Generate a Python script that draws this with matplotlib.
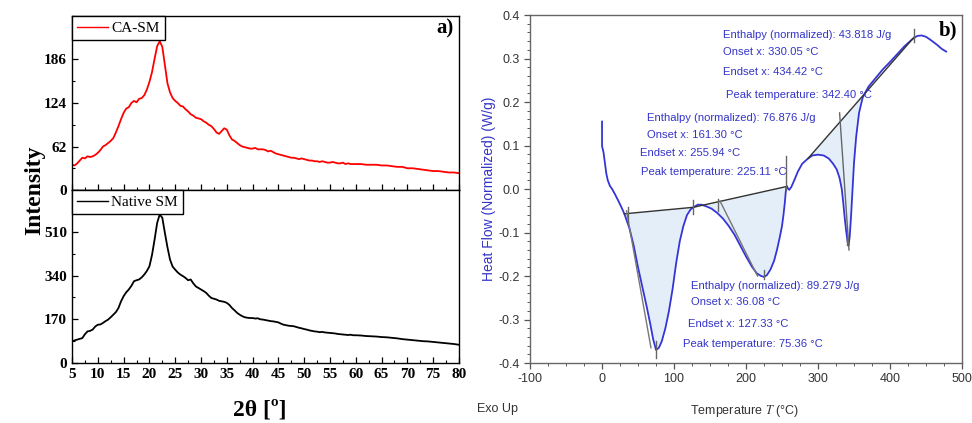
import numpy as np
import matplotlib
matplotlib.use("Agg")
import matplotlib.pyplot as plt
from matplotlib.ticker import MultipleLocator, AutoMinorLocator

plt.rcParams['axes.unicode_minus'] = False
plt.rcParams['mathtext.fontset'] = 'stix'

# ---- XRD data (a) ----
two_theta = np.concatenate([np.arange(5, 60, 0.5), np.arange(60, 81, 1)])
ca_sm = [36, 35, 38, 42, 46, 45, 48, 47, 48, 50,
         53, 57, 62, 64, 67, 70, 74, 82, 91, 101,
         110, 116, 118, 124, 127, 125, 130, 131, 135, 143,
         154, 168, 187, 205, 212, 204, 178, 152, 139, 131,
         127, 124, 120, 119, 115, 112, 108, 106, 103, 102,
         101, 98, 96, 93, 91, 87, 82, 80, 84, 88,
         86, 78, 72, 70, 67, 64, 62, 61, 60, 59,
         59, 60, 58, 58, 58, 57, 55, 56, 54, 52,
         51, 50, 49, 48, 47, 46, 46, 45, 44, 45,
         44, 43, 42, 42, 41, 41, 40, 41, 40, 39,
         39, 40, 39, 38, 38, 39, 37, 38, 37, 37,
         37, 37, 36, 36, 36, 35, 35, 34, 33, 33, 31,
         31, 30, 29, 28, 27, 27, 26, 25, 25, 24]
native_sm = [84, 88, 91, 94, 97, 112, 123, 125, 130, 142,
             149, 150, 156, 163, 169, 178, 188, 198, 214, 240,
             260, 275, 286, 300, 318, 322, 325, 333, 344, 358,
             376, 420, 480, 545, 578, 565, 506, 450, 402, 375,
             363, 352, 344, 338, 331, 322, 325, 310, 298, 292,
             286, 280, 273, 262, 253, 250, 247, 242, 240, 238,
             234, 226, 214, 205, 195, 188, 182, 178, 176, 175,
             175, 173, 174, 170, 169, 167, 165, 163, 162, 160,
             158, 153, 149, 147, 145, 144, 143, 140, 137, 135,
             132, 130, 127, 125, 123, 122, 120, 121, 119, 118,
             117, 116, 115, 113, 112, 111, 110, 109, 110, 108,
             108, 107, 105, 104, 103, 101, 100, 98, 96, 93, 91,
             89, 87, 85, 84, 82, 80, 78, 76, 74, 71]
top_yticks = [0, 62, 124, 186]
bot_yticks = [0, 170, 340, 510]

# ---- DSC data (b) ----
dsc_T = [0, 0, 0.5, 2, 4, 6, 8, 11, 14, 18, 22, 27, 31, 38, 44, 50, 56, 62, 67, 71,
         75, 79, 83, 88, 93, 98, 103, 108, 113, 118, 123, 127, 133, 138, 145, 152, 160,
         168, 176, 184, 192, 200, 208, 215, 221, 225, 229, 234, 239, 243, 247, 250,
         252, 254, 255, 256, 257, 258, 260, 263, 267, 272, 278, 286, 292, 300, 308,
         315, 321, 326, 330, 333, 335, 337, 339, 341, 342.4, 344, 346, 348, 350, 353,
         357, 362, 370, 380, 390, 400, 410, 420, 430, 434, 438, 444, 450, 457, 465,
         472, 478]
dsc_hf = [0.155, 0.10, 0.095, 0.085, 0.06, 0.035, 0.02, 0.007, 0.0, -0.012, -0.025,
          -0.042, -0.057, -0.09, -0.13, -0.18, -0.225, -0.27, -0.31, -0.345,
          -0.37, -0.365, -0.35, -0.32, -0.28, -0.23, -0.17, -0.12, -0.085, -0.06,
          -0.047, -0.042, -0.036, -0.036, -0.04, -0.045, -0.055,
          -0.068, -0.085, -0.105, -0.13, -0.155, -0.178, -0.194, -0.2, -0.202,
          -0.198, -0.185, -0.165, -0.14, -0.11, -0.085,
          -0.06, -0.03, -0.01, 0.003, 0.006, 0.002, -0.002, 0.005, 0.02, 0.04,
          0.058, 0.07, 0.077, 0.079, 0.077,
          0.07, 0.058, 0.045, 0.025, 0.0, -0.03, -0.065, -0.095, -0.12, -0.13,
          -0.11, -0.06, 0.0, 0.06, 0.12,
          0.175, 0.21, 0.235, 0.255, 0.275, 0.292, 0.31, 0.328, 0.343, 0.348,
          0.352, 0.353, 0.35, 0.342, 0.332, 0.322, 0.316]
base1_T = [31, 127, 257]
base1_hf = [-0.057, -0.042, 0.006]
base2_T = [286, 434]
base2_hf = [0.07, 0.35]
tangent1 = ([34, 68], [-0.05, -0.365])
tangent2 = ([164, 216], [-0.028, -0.2])
marks = [  # (T1, y1, T2, y2)
    (36, -0.042, 36, -0.075), (127, -0.025, 127, -0.058), (161, -0.022, 161, -0.05),
    (75, -0.35, 75, -0.388), (225, -0.187, 225, -0.208), (256, 0.075, 256, -0.003),
    (330, 0.175, 343, -0.14), (434, 0.368, 434, 0.338), (340, -0.11, 340, -0.128)]
notes = [
    (168, 0.354, 'Enthalpy (normalized): 43.818 J/g'),
    (168, 0.315, 'Onset x: 330.05 °C'),
    (168, 0.269, 'Endset x: 434.42 °C'),
    (172, 0.216, 'Peak temperature: 342.40 °C'),
    (62.5, 0.163, 'Enthalpy (normalized): 76.876 J/g'),
    (62.5, 0.124, 'Onset x: 161.30 °C'),
    (53, 0.083, 'Endset x: 255.94 °C'),
    (54, 0.039, 'Peak temperature: 225.11 °C'),
    (123.5, -0.223, 'Enthalpy (normalized): 89.279 J/g'),
    (123.5, -0.26, 'Onset x: 36.08 °C'),
    (119.5, -0.31, 'Endset x: 127.33 °C'),
    (112.5, -0.356, 'Peak temperature: 75.36 °C'),
]

serif = 'Liberation Serif'
sans = ['Liberation Sans', 'DejaVu Sans']
blue = '#3535d6'
txtblue = '#3434c8'

fig = plt.figure(figsize=(9.72, 4.23), dpi=100)
ax1 = fig.add_axes([0.0741, 0.5508, 0.3981, 0.4114])
ax2 = fig.add_axes([0.0741, 0.1418, 0.3981, 0.409])
ax3 = fig.add_axes([0.5453, 0.1418, 0.4444, 0.8227])

for ax, y, col, lab, ticks, ytop in [(ax1, ca_sm, 'red', 'CA-SM', top_yticks, 248),
                                     (ax2, native_sm, 'black', 'Native SM', bot_yticks, 673)]:
    ax.plot(two_theta, y, color=col, lw=1.3, label=lab)
    ax.set_xlim(5, 80)
    ax.set_ylim(0, ytop)
    ax.set_yticks(ticks)
    ax.xaxis.set_major_locator(MultipleLocator(5))
    ax.xaxis.set_minor_locator(AutoMinorLocator(2))
    ax.yaxis.set_minor_locator(AutoMinorLocator(2))
    ax.tick_params(which='both', direction='in', top=False, right=False)
    ax.tick_params(which='major', length=4, width=0.9)
    ax.tick_params(which='minor', length=2.5, width=0.8)
    for s in ax.spines.values():
        s.set_linewidth(1.0)
    for t in ax.get_xticklabels() + ax.get_yticklabels():
        t.set_fontfamily(serif)
        t.set_fontweight('bold')
        t.set_fontsize(11)
    leg = ax.legend(loc='upper left', borderaxespad=0, fancybox=False, framealpha=1,
                    edgecolor='black', handlelength=2.0, handletextpad=0.2,
                    borderpad=0.35, prop={'family': serif, 'size': 11})
    leg.get_frame().set_linewidth(1.0)
    leg.get_lines()[0].set_linewidth(1.0)
ax1.tick_params(labelbottom=False)
ax1.text(0.985, 0.93, 'a)', transform=ax1.transAxes, ha='right', va='center',
         fontfamily=serif, fontweight='bold', fontsize=15)
fig.text(35 / 972, 1 - 190 / 423, 'Intensity', rotation=90, ha='center', va='center',
         fontfamily=serif, fontweight='bold', fontsize=17)
fig.text(260 / 972, 1 - 410 / 423, '2θ [º]', ha='center', va='center',
         fontfamily=serif, fontweight='bold', fontsize=17)

# ---- DSC panel ----
T = np.array(dsc_T)
hf = np.array(dsc_hf)
b1 = np.interp(T, base1_T, base1_hf)
b2 = np.interp(T, base2_T, base2_hf)
fill_col = '#e4eef9'
ax3.fill_between(T, hf, b1, where=(T >= base1_T[0]) & (T <= base1_T[-1]) & (hf <= b1),
                 interpolate=True, color=fill_col, lw=0)
ax3.fill_between(T, hf, b2, where=(T >= base2_T[0]) & (T <= base2_T[-1]) & (hf <= b2),
                 interpolate=True, color=fill_col, lw=0)
ax3.plot(T, hf, color=blue, lw=1.3)
ax3.plot(base1_T, base1_hf, color='#333333', lw=1.0)
ax3.plot(base2_T, base2_hf, color='#333333', lw=1.0)
ax3.plot(*tangent1, color='#777777', lw=1.0)
ax3.plot(*tangent2, color='#777777', lw=1.0)
for x1, y1, x2, y2 in marks:
    ax3.plot([x1, x2], [y1, y2], color='#666666', lw=1.0)
for x, y, s in notes:
    ax3.text(x, y, s, color=txtblue, fontfamily=sans, fontsize=8.1, ha='left', va='center')

ax3.set_xlim(-100, 500)
ax3.set_ylim(-0.4, 0.4)
ax3.xaxis.set_major_locator(MultipleLocator(100))
ax3.xaxis.set_minor_locator(AutoMinorLocator(4))
ax3.yaxis.set_major_locator(MultipleLocator(0.1))
ax3.yaxis.set_minor_locator(AutoMinorLocator(5))
ax3.yaxis.set_major_formatter(matplotlib.ticker.FormatStrFormatter('%.1f'))
ax3.tick_params(which='both', direction='out', colors='#555555', labelcolor='#333333')
ax3.tick_params(which='major', length=4, width=0.9)
ax3.tick_params(which='minor', length=2.5, width=0.7)
for t in ax3.get_xticklabels() + ax3.get_yticklabels():
    t.set_fontfamily(sans)
    t.set_fontsize(9)
for s in ax3.spines.values():
    s.set_color('#666666')
    s.set_linewidth(1.0)
ax3.text(0.99, 0.955, 'b)', transform=ax3.transAxes, ha='right', va='center',
         fontfamily=serif, fontweight='bold', fontsize=15)
fig.text(489 / 972, 1 - 189 / 423, 'Heat Flow (Normalized) (W/g)', rotation=90,
         ha='center', va='center', color=txtblue, fontfamily=sans, fontsize=10)
fig.text(745 / 972, 1 - 411 / 423, 'Temperature $T$ (°C)', ha='center', va='center',
         color='#333333', fontfamily=sans, fontsize=9)
fig.text(477 / 972, 1 - 409 / 423, 'Exo Up', ha='left', va='center',
         color='#333333', fontfamily=sans, fontsize=9)

fig.savefig('out.png', dpi=100)
